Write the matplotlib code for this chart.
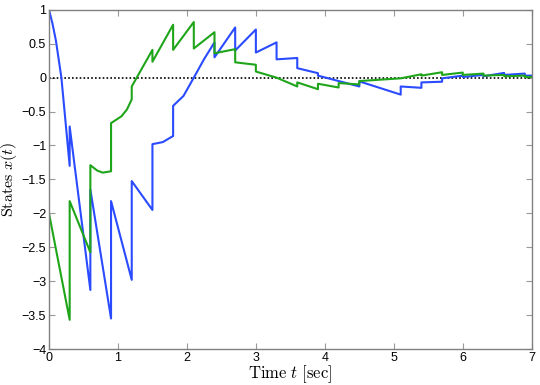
#!/usr/bin/env python3
import matplotlib

matplotlib.use("Agg")

import matplotlib.pyplot as plt

# impulse instants appear twice: value just before and just after the jump
t_blue = [0.0, 0.05, 0.1, 0.18, 0.3, 0.3, 0.6, 0.6, 0.9, 0.9, 1.2, 1.2, 1.5,
          1.5, 1.65, 1.8, 1.8, 1.95, 2.1, 2.25, 2.4, 2.4, 2.7, 2.7, 3.0,
          3.0, 3.3, 3.3, 3.6, 3.6, 3.9, 3.9, 4.2, 4.5, 4.5, 5.1, 5.1, 5.4,
          5.4, 5.7, 5.7, 6.0, 6.0, 6.3, 6.3, 6.6, 6.6, 6.9, 6.9, 7.0]
x_blue = [1.0, 0.8, 0.55, 0.0, -1.30, -0.72, -3.13, -1.65, -3.55, -1.82, -2.98, -1.525, -1.95,
          -0.98, -0.95, -0.86, -0.415, -0.27, 0.0, 0.275, 0.52, 0.30, 0.74, 0.40, 0.71,
          0.37, 0.52, 0.27, 0.29, 0.14, 0.066, 0.03, -0.05, -0.13, -0.055, -0.25, -0.13, -0.15,
          -0.07, -0.06, -0.01, 0.03, 0.01, 0.04, 0.02, 0.07, 0.04, 0.06, 0.03, 0.03]

t_green = [0.0, 0.3, 0.3, 0.6, 0.6, 0.7, 0.78, 0.9, 0.9, 1.05, 1.13, 1.2,
           1.2, 1.5, 1.5, 1.8, 1.8, 2.1, 2.1, 2.4, 2.4, 2.7, 2.7, 3.0,
           3.0, 3.3, 3.6, 3.6, 3.9, 3.9, 4.2, 4.2, 4.5, 4.5, 5.1, 5.4,
           5.4, 5.7, 5.7, 6.0, 6.0, 6.3, 6.3, 6.6, 6.6, 6.9, 6.9, 7.0]
x_green = [-2.0, -3.57, -1.82, -2.575, -1.29, -1.37, -1.40, -1.38, -0.67, -0.57, -0.47, -0.32,
           -0.13, 0.41, 0.235, 0.78, 0.41, 0.82, 0.43, 0.67, 0.36, 0.42, 0.226, 0.19,
           0.09, 0.0, -0.13, -0.07, -0.17, -0.09, -0.145, -0.08, -0.10, -0.05, -0.01, 0.05,
           0.03, 0.08, 0.04, 0.075, 0.04, 0.06, 0.03, 0.04, 0.02, 0.03, 0.01, 0.01]

x_ticks = [0, 1, 2, 3, 4, 5, 6, 7]
y_ticks = [1, 0.5, 0, -0.5, -1, -1.5, -2, -2.5, -3, -3.5, -4]
y_tick_labels = ["1", "0.5", "0", "\u22120.5", "\u22121", "\u22121.5", "\u22122",
                 "\u22122.5", "\u22123", "\u22123.5", "\u22124"]

plt.rcParams["font.family"] = ["Liberation Sans", "DejaVu Sans"]
plt.rcParams["mathtext.fontset"] = "cm"

fig = plt.figure(figsize=(5.4, 3.85), dpi=100)
ax = fig.add_axes([0.0907, 0.0935, 0.894, 0.881])

ax.plot([0, 7], [0, 0], color="black", linestyle=(0, (1, 1.3)), linewidth=1.2)
ax.plot(t_blue, x_blue, color="#2a4bff", linewidth=1.5)
ax.plot(t_green, x_green, color="#1fa51a", linewidth=1.5)

ax.set_xlim(0, 7)
ax.set_ylim(-4, 1)
ax.set_xticks(x_ticks)
ax.set_yticks(y_ticks)
ax.set_yticklabels(y_tick_labels)

for side in ax.spines.values():
    side.set_color("#808080")
    side.set_linewidth(1.0)
ax.tick_params(direction="in", length=4, width=0.8, color="#999999",
               labelsize=9, top=True, right=True, pad=2)

ax.set_xlabel(r"$\mathrm{Time}\ t\ [\mathrm{sec}]$", fontsize=12, labelpad=0)
ax.set_ylabel(r"$\mathrm{States}\ x(t)$", fontsize=11.5)
ax.yaxis.set_label_coords(-0.062, 0.5)

fig.savefig("out.png", dpi=100)
